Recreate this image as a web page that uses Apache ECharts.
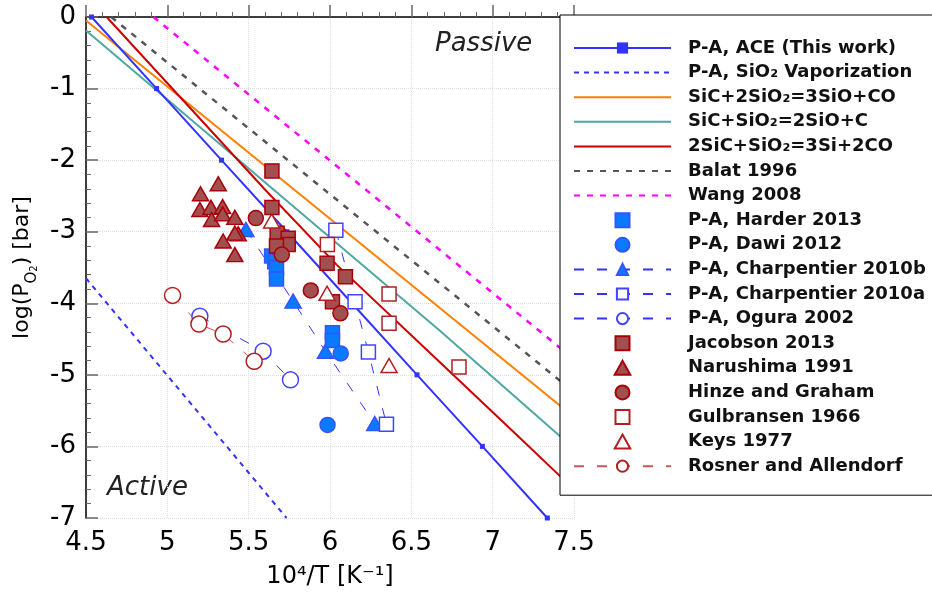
<!DOCTYPE html>
<html>
<head>
<meta charset="utf-8">
<script src="https://cdn.jsdelivr.net/npm/echarts@6/dist/echarts.min.js"></script>
<style>
  html, body { margin: 0; padding: 0; background: #fff; }
  #chart { width: 932px; height: 594px; }
</style>
</head>
<body>
<div id="chart"></div>
<script>
// lines: [10^4/T, log(PO2)]
var aceLine = [[4.534, 0], [4.934, -1], [5.333, -2], [5.735, -3], [6.135, -4], [6.535, -5], [6.937, -6], [7.336, -7]];
var sio2Vapor = [[4.5, -3.65], [5.733, -7]];
var reaction1 = [[4.5, -0.05], [7.5, -5.59]];
var reaction2 = [[4.5, -0.19], [6.674, -4.38], [7.5, -6.03]];
var reaction3 = [[4.627, 0], [5.6, -2.41], [6.04, -3.46], [6.674, -4.82], [7.176, -5.9], [7.5, -6.6]];
var balat = [[4.655, 0], [7.5, -5.24]];
var wang = [[4.915, 0], [7.5, -4.78]];

// experimental points
var harder = [[5.641, -3.34], [5.66, -3.42], [5.671, -3.5], [5.671, -3.66], [6.015, -4.41], [6.015, -4.52]];
var dawi = [[6.066, -4.7], [5.985, -5.7]];
var charp2010b = [[5.483, -2.97], [5.773, -3.97], [5.972, -4.67], [6.275, -5.68]];
var charp2010a = [[6.036, -2.98], [6.154, -3.98], [6.236, -4.68], [6.347, -5.69]];
var ogura = [[5.2, -4.18], [5.589, -4.67], [5.757, -5.07]];
var jacobson = [[5.643, -2.15], [5.643, -2.66], [5.675, -3.02], [5.743, -3.09], [5.743, -3.18], [5.671, -3.2],
  [5.982, -3.44], [6.095, -3.63], [6.015, -3.98]];
var narushima = [[5.313, -2.33], [5.204, -2.47], [5.2, -2.69], [5.268, -2.66], [5.34, -2.65], [5.272, -2.83],
  [5.34, -2.75], [5.415, -2.8], [5.436, -3.03], [5.415, -3.02], [5.343, -3.13], [5.415, -3.32]];
var hinze = [[5.544, -2.81], [5.704, -3.32], [5.882, -3.82], [6.064, -4.14]];
var gulbransen = [[5.984, -3.18], [6.363, -3.87], [6.363, -4.28], [6.793, -4.89]];
var keys = [[5.641, -2.85], [5.982, -3.86], [6.363, -4.87]];
var rosner = [[5.032, -3.89], [5.194, -4.29], [5.343, -4.43], [5.534, -4.81]];

var FONT = 'DejaVu Sans';
var BLUE = '#3333ff';
var BLUE_FILL = '#0a7aff';
var DRED = '#a8000a';
var DRED_FILL = '#a24f4f';

// legend icons drawn as paths so they keep a square aspect
var ICON_SQUARE = 'path://M0,0H10V10H0Z';
var ICON_CIRCLE = 'path://M5,0A5,5 0 1,1 5,10A5,5 0 1,1 5,0Z';
var ICON_TRIANGLE = 'path://M5,0L10,9L0,9Z';

const chart = echarts.init(document.getElementById('chart'));

function plainLine(name, data, color, type, width) {
    return {
        name: name,
        type: 'line',
        data: data,
        symbol: 'none',
        silent: true,
        animation: false,
        itemStyle: { color: color },
        lineStyle: { color: color, width: width, type: type },
        z: 2
    };
}

function dots(name, data, symbol, size, fill, border) {
    return {
        name: name,
        type: 'scatter',
        data: data,
        symbol: symbol,
        symbolSize: size,
        animation: false,
        itemStyle: { color: fill, borderColor: border, borderWidth: 1.5, opacity: 1 },
        z: 4
    };
}

function dashedDots(name, data, symbol, size, fill, border, lineColor) {
    return {
        name: name,
        type: 'line',
        data: data,
        symbol: symbol,
        symbolSize: size,
        showSymbol: true,
        animation: false,
        itemStyle: { color: fill, borderColor: border, borderWidth: 1.5 },
        lineStyle: { color: lineColor, width: 1, type: [10, 13] },
        z: 4
    };
}

var noMark = { opacity: 0 };

chart.setOption({
    backgroundColor: '#fff',
    grid: { left: 86, top: 17, right: 358, bottom: 75 },
    xAxis: {
        type: 'value',
        min: 4.5,
        max: 7.5,
        interval: 0.5,
        name: '10⁴/T [K⁻¹]',
        nameLocation: 'middle',
        nameGap: 47,
        nameTextStyle: { fontFamily: FONT, fontSize: 24, color: '#000' },
        axisLine: { show: true, lineStyle: { color: '#000', width: 1.5 } },
        axisTick: { show: true, inside: true, length: 12, lineStyle: { color: '#666', width: 1.5 } },
        minorTick: { show: true, splitNumber: 5, length: 5, lineStyle: { color: '#666' } },
        axisLabel: { fontFamily: FONT, fontSize: 26, color: '#000', margin: 12 },
        splitLine: { show: true, lineStyle: { color: '#ddd', type: 'dotted' } }
    },
    yAxis: {
        type: 'value',
        min: -7,
        max: 0,
        interval: 1,
        name: 'log(P{s|O}{ss|2}) [bar]',
        nameLocation: 'middle',
        nameGap: 34,
        nameTextStyle: {
            fontFamily: FONT, fontSize: 22, color: '#000',
            rich: {
                s: { fontFamily: FONT, fontSize: 15, color: '#000', verticalAlign: 'bottom', lineHeight: 30 },
                ss: { fontFamily: FONT, fontSize: 10, color: '#000', verticalAlign: 'bottom', lineHeight: 34 }
            }
        },
        axisLine: { show: true, lineStyle: { color: '#000', width: 1.5 } },
        axisTick: { show: true, inside: true, length: 12, lineStyle: { color: '#666', width: 1.5 } },
        minorTick: { show: true, splitNumber: 5, length: 5, lineStyle: { color: '#666' } },
        axisLabel: { fontFamily: FONT, fontSize: 26, color: '#000', margin: 10 },
        splitLine: { show: true, lineStyle: { color: '#ddd', type: 'dotted' } }
    },
    legend: {
        orient: 'vertical',
        left: 560,
        top: 15,
        padding: [24, 14, 20, 13],
        itemWidth: 97,
        itemHeight: 14,
        itemGap: 6.6,
        symbolKeepAspect: true,
        selectedMode: false,
        backgroundColor: '#fff',
        borderColor: '#000',
        borderWidth: 1,
        textStyle: { fontFamily: FONT, fontSize: 18, fontWeight: 'bold', color: '#111', padding: [0, 0, 0, 12] },
        data: [
            { name: 'P-A, ACE (This work)' },
            { name: 'P-A, SiO₂ Vaporization', itemStyle: noMark },
            { name: 'SiC+2SiO₂=3SiO+CO', itemStyle: noMark },
            { name: 'SiC+SiO₂=2SiO+C', itemStyle: noMark },
            { name: '2SiC+SiO₂=3Si+2CO', itemStyle: noMark },
            { name: 'Balat 1996', itemStyle: noMark },
            { name: 'Wang 2008', itemStyle: noMark },
            { name: 'P-A, Harder 2013', icon: ICON_SQUARE },
            { name: 'P-A, Dawi 2012', icon: ICON_CIRCLE },
            'P-A, Charpentier 2010b',
            'P-A, Charpentier 2010a',
            'P-A, Ogura 2002',
            { name: 'Jacobson 2013', icon: ICON_SQUARE },
            { name: 'Narushima 1991', icon: ICON_TRIANGLE },
            { name: 'Hinze and Graham', icon: ICON_CIRCLE },
            { name: 'Gulbransen 1966', icon: ICON_SQUARE },
            { name: 'Keys 1977', icon: ICON_TRIANGLE },
            'Rosner and Allendorf'
        ]
    },
    graphic: [
        { type: 'text', left: 435, top: 31, silent: true,
          style: { text: 'Passive', fontFamily: FONT, fontStyle: 'italic', fontSize: 26, fill: '#222' } },
        { type: 'text', left: 107, top: 475, silent: true,
          style: { text: 'Active', fontFamily: FONT, fontStyle: 'italic', fontSize: 26, fill: '#222' } }
    ],
    series: [
        {
            name: 'P-A, ACE (This work)',
            type: 'line',
            data: aceLine,
            symbol: 'rect',
            symbolSize: 5,
            showSymbol: true,
            animation: false,
            itemStyle: { color: BLUE },
            lineStyle: { color: BLUE, width: 2 },
            z: 3
        },
        plainLine('P-A, SiO₂ Vaporization', sio2Vapor, BLUE, [5, 5], 2),
        plainLine('SiC+2SiO₂=3SiO+CO', reaction1, '#ff8000', 'solid', 2),
        plainLine('SiC+SiO₂=2SiO+C', reaction2, '#4fa8a0', 'solid', 2),
        plainLine('2SiC+SiO₂=3Si+2CO', reaction3, '#cc0000', 'solid', 2),
        plainLine('Balat 1996', balat, '#555555', [6, 7], 2.5),
        plainLine('Wang 2008', wang, '#ff00ff', [6, 7], 2.5),
        dots('P-A, Harder 2013', harder, 'rect', 14, BLUE_FILL, '#3355ff'),
        dots('P-A, Dawi 2012', dawi, 'circle', 15, BLUE_FILL, '#3355ff'),
        dashedDots('P-A, Charpentier 2010b', charp2010b, 'triangle', [16, 14], BLUE_FILL, '#3355ff', BLUE),
        dashedDots('P-A, Charpentier 2010a', charp2010a, 'rect', 14, '#fff', '#4444ff', BLUE),
        dashedDots('P-A, Ogura 2002', ogura, 'circle', 16, '#fff', '#4444ff', BLUE),
        dots('Jacobson 2013', jacobson, 'rect', 14, DRED_FILL, DRED),
        dots('Narushima 1991', narushima, 'triangle', [16, 14], DRED_FILL, DRED),
        dots('Hinze and Graham', hinze, 'circle', 15, DRED_FILL, DRED),
        dots('Gulbransen 1966', gulbransen, 'rect', 14, '#fff', '#b02020'),
        dots('Keys 1977', keys, 'triangle', [16, 14], '#fff', '#b02020'),
        dashedDots('Rosner and Allendorf', rosner, 'circle', 16, '#fff', '#b02020', '#cc5555')
    ]
});
</script>
</body>
</html>
